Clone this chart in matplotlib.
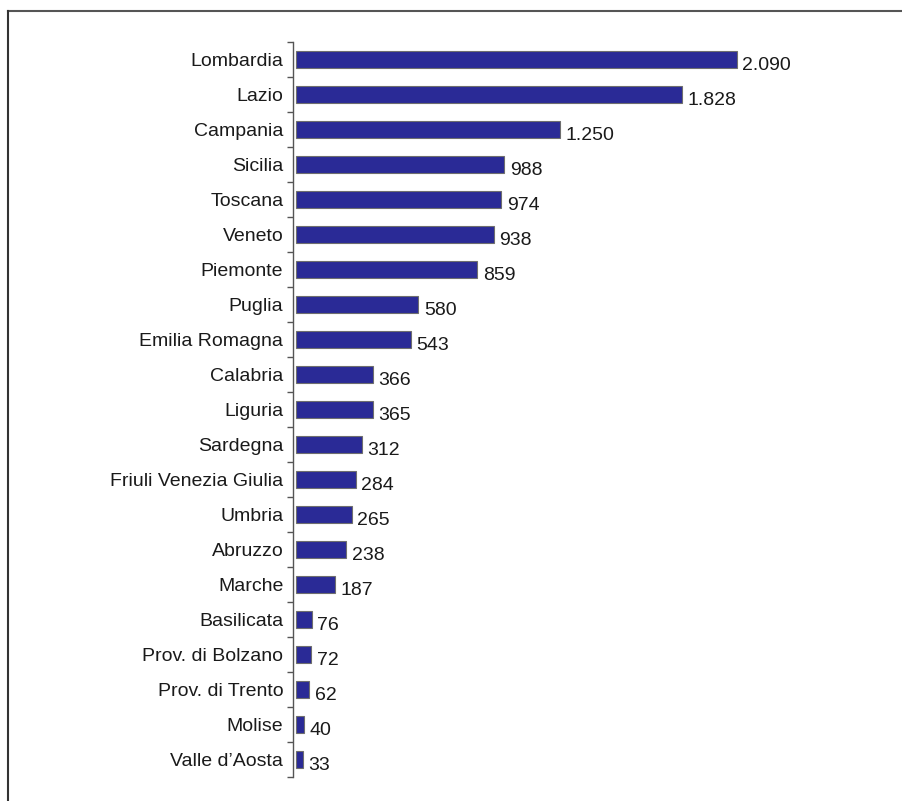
import numpy as np
import matplotlib.pyplot as plt
from matplotlib.lines import Line2D

regions = [
    "Lombardia", "Lazio", "Campania", "Sicilia", "Toscana", "Veneto",
    "Piemonte", "Puglia", "Emilia Romagna", "Calabria", "Liguria",
    "Sardegna", "Friuli Venezia Giulia", "Umbria", "Abruzzo", "Marche",
    "Basilicata", "Prov. di Bolzano", "Prov. di Trento", "Molise",
    "Valle d\u2019Aosta",
]
values = [2090, 1828, 1250, 988, 974, 938, 859, 580, 543, 366, 365,
          312, 284, 265, 238, 187, 76, 72, 62, 40, 33]

BAR_COLOR = "#2a2a96"
EDGE_COLOR = "#6e6e6e"

plt.rcParams["font.family"] = ["Liberation Sans", "DejaVu Sans"]

fig = plt.figure(figsize=(9.03, 8.01), dpi=100)
W, H = 903, 801
ax = fig.add_axes([293 / W, 1 - 777 / H, (880 - 293) / W, (777 - 42) / H])

n = len(regions)
pos = np.arange(n)
ax.barh(pos, values, height=0.47, left=0, color=BAR_COLOR,
        edgecolor=EDGE_COLOR, linewidth=0.8)

for p, v in zip(pos, values):
    label = f"{v:,}".replace(",", ".")
    ax.text(v + 26, p + 0.17, label, va="center", ha="left",
            fontsize=14, color="#1a1a1a")

ax.set_ylim(n - 0.5, -0.5)
ax.set_xlim(-14, (880 - 296) / 0.211)

ax.set_yticks(pos)
ax.set_yticklabels(regions, fontsize=14, color="#1a1a1a")
ax.tick_params(axis="y", which="major", length=0, pad=7)
ax.set_yticks(np.arange(-0.5, n, 1.0), minor=True)
ax.tick_params(axis="y", which="minor", length=4, width=1.0,
               color="#555555", direction="out")

ax.set_xticks([])
for side in ["top", "right", "bottom"]:
    ax.spines[side].set_visible(False)
ax.spines["left"].set_color("#555555")
ax.spines["left"].set_linewidth(1.0)

# outer frame: top and left edges
fig.add_artist(Line2D([8 / W, 1], [1 - 11 / H, 1 - 11 / H],
                      transform=fig.transFigure, color="#555555", lw=1.5))
fig.add_artist(Line2D([8 / W, 8 / W], [1 - 11 / H, 0],
                      transform=fig.transFigure, color="#333333", lw=1.5))

fig.savefig("out.png", dpi=100)
